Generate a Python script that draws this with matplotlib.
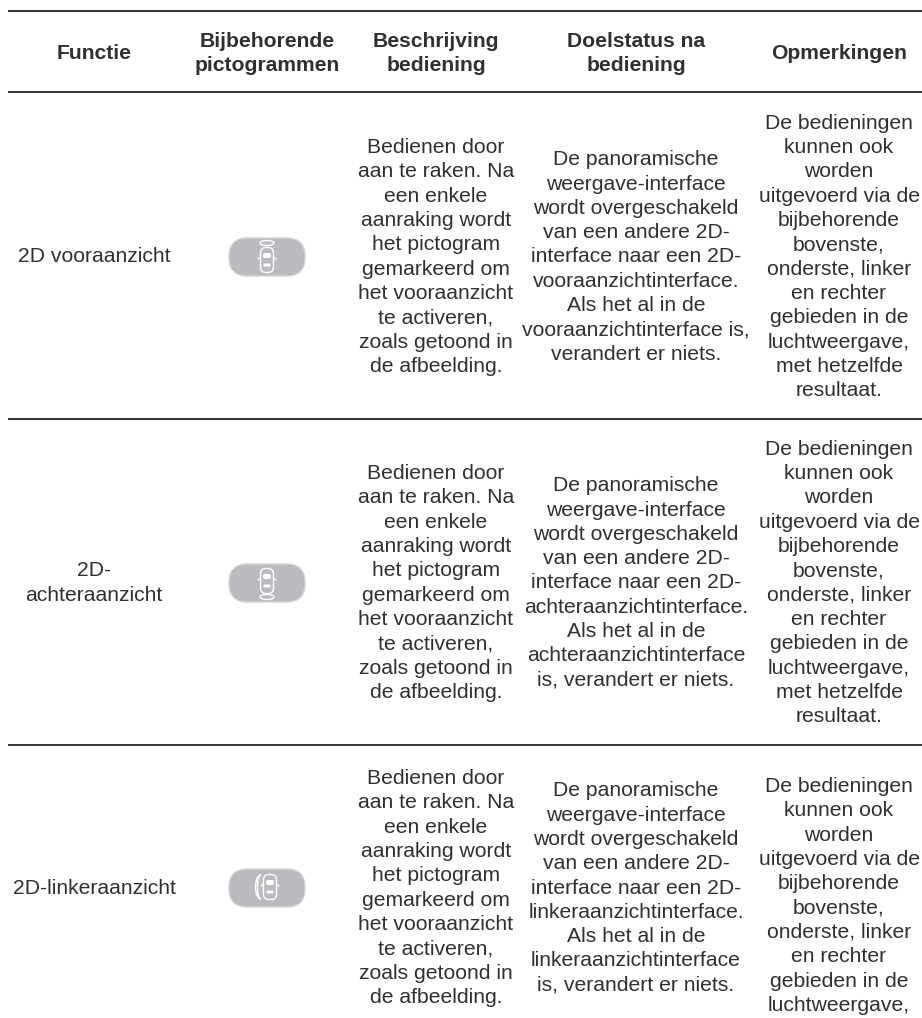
import matplotlib
matplotlib.use('Agg')
import matplotlib.pyplot as plt
from matplotlib.patches import FancyBboxPatch, Arc, Rectangle

plt.rcParams['font.family'] = ['Liberation Sans', 'DejaVu Sans']

headers = [['Functie'], ['Bijbehorende', 'pictogrammen'], ['Beschrijving', 'bediening'],
           ['Doelstatus na', 'bediening'], ['Opmerkingen']]

functions = [['2D vooraanzicht'], ['2D-', 'achteraanzicht'], ['2D-linkeraanzicht']]
icon_kinds = ['front', 'rear', 'left']

description = ['Bedienen door', 'aan te raken. Na', 'een enkele', 'aanraking wordt',
               'het pictogram', 'gemarkeerd om', 'het vooraanzicht', 'te activeren,',
               'zoals getoond in', 'de afbeelding.']

targets = [
    ['De panoramische', 'weergave-interface', 'wordt overgeschakeld', 'van een andere 2D-',
     'interface naar een 2D-', 'vooraanzichtinterface.', 'Als het al in de',
     'vooraanzichtinterface is,', 'verandert er niets.'],
    ['De panoramische', 'weergave-interface', 'wordt overgeschakeld', 'van een andere 2D-',
     'interface naar een 2D-', 'achteraanzichtinterface.', 'Als het al in de',
     'achteraanzichtinterface', 'is, verandert er niets.'],
    ['De panoramische', 'weergave-interface', 'wordt overgeschakeld', 'van een andere 2D-',
     'interface naar een 2D-', 'linkeraanzichtinterface.', 'Als het al in de',
     'linkeraanzichtinterface', 'is, verandert er niets.'],
]

remarks = ['De bedieningen', 'kunnen ook', 'worden', 'uitgevoerd via de', 'bijbehorende',
           'bovenste,', 'onderste, linker', 'en rechter', 'gebieden in de',
           'luchtweergave,', 'met hetzelfde', 'resultaat.']

# the last row is cut off by the page, its remark stops after 10 lines
remark_lines = [12, 12, 10]

rule_y = [11, 92, 419, 745]
row_mid = [257, 583, 888]
remark_mid = [257, 583, 896]
col_x = [94, 267, 436, 636, 839]
line_h = 24.3
text_col = '#303030'


def put_lines(ax, x, mid, lines, **kw):
    # centre a block of lines around mid
    top = mid - (len(lines) - 1) * line_h / 2
    for i, s in enumerate(lines):
        ax.text(x, top + i * line_h, s, ha='center', va='center', fontsize=15.2,
                color=text_col, **kw)


def car(ax, cx, cy):
    c = 'white'
    ax.add_patch(FancyBboxPatch((cx - 6.5, cy - 12.5), 13, 25, boxstyle='round,pad=0,rounding_size=5.5',
                                fc='none', ec=c, lw=1.0))
    ax.add_patch(FancyBboxPatch((cx - 4, cy - 7), 8, 5, boxstyle='round,pad=0,rounding_size=2',
                                fc=c, ec='none'))
    ax.add_patch(FancyBboxPatch((cx - 3.5, cy + 3.5), 7, 3, boxstyle='round,pad=0,rounding_size=1',
                                fc=c, ec='none'))
    # mirrors
    ax.plot([cx - 6.5, cx - 9], [cy - 3, cy - 1], color=c, lw=0.9)
    ax.plot([cx + 6.5, cx + 9], [cy - 3, cy - 1], color=c, lw=0.9)


def icon(ax, cx, cy, kind):
    ax.add_patch(FancyBboxPatch((cx - 38, cy - 19), 76, 38, boxstyle='round,pad=0,rounding_size=18.5',
                                fc='#b9bbbe', ec='#d2d3d5', lw=1))
    if kind == 'front':
        car(ax, cx, cy + 3)
        ax.add_patch(Arc((cx, cy - 14), 14, 5, theta1=0, theta2=360, ec='white', lw=1))
    elif kind == 'rear':
        car(ax, cx, cy - 2)
        ax.add_patch(Arc((cx, cy + 14), 14, 5, theta1=0, theta2=360, ec='white', lw=1))
    else:
        car(ax, cx + 3, cy - 1)
        ax.add_patch(Arc((cx - 6, cy - 1), 7, 24, theta1=90, theta2=270, ec='white', lw=1))
        ax.add_patch(Arc((cx - 6, cy - 1), 11, 24, theta1=90, theta2=270, ec='white', lw=1))


fig = plt.figure(figsize=(9.22, 10.18), dpi=100)
ax = fig.add_axes([0, 0, 1, 1])
ax.set_xlim(0, 922)
ax.set_ylim(1018, 0)
ax.axis('off')

for y in rule_y:
    ax.plot([8, 922], [y, y], color='#111111', lw=1.2, solid_capstyle='butt')

for x, h in zip(col_x, headers):
    put_lines(ax, x, 53.5, h, fontweight='bold')

for i, mid in enumerate(row_mid):
    put_lines(ax, col_x[0], mid, functions[i])
    icon(ax, col_x[1], mid, icon_kinds[i])
    put_lines(ax, col_x[2], mid, description)
    put_lines(ax, col_x[3], mid, targets[i])
    put_lines(ax, col_x[4], remark_mid[i], remarks[:remark_lines[i]])

fig.savefig('out.png', dpi=100)
